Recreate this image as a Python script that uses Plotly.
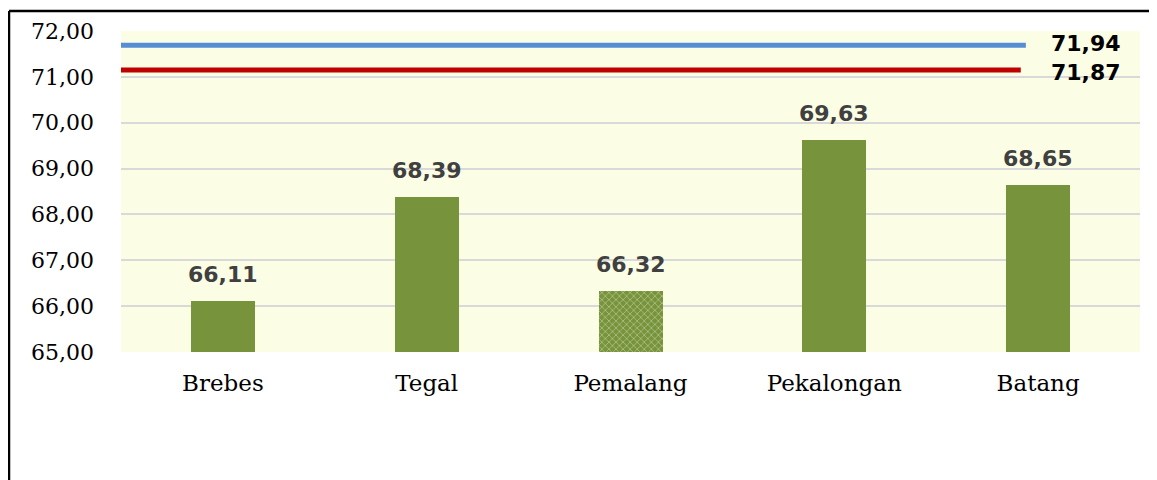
import plotly.graph_objects as go

categories = ["Brebes", "Tegal", "Pemalang", "Pekalongan", "Batang"]
values = [66.11, 68.39, 66.32, 69.63, 68.65]
value_labels = ["66,11", "68,39", "66,32", "69,63", "68,65"]
patterned = [False, False, True, False, False]

ref_line_levels = [71.69, 71.15]          # drawn positions as seen in the picture
ref_line_labels = ["71,94", "71,87"]
ref_line_colors = ["#558ED5", "#C00000"]
ref_line_x = [(-0.5, 3.94), (-0.525, 3.915)]

y_ticks = [65, 66, 67, 68, 69, 70, 71, 72]
y_tick_text = ["65,00", "66,00", "67,00", "68,00", "69,00", "70,00", "71,00", "72,00"]

GREEN = "#77933C"

W, H = 1149, 472
ML, MR, MT, MB = 113, 17, 23, 128
PW = W - ML - MR
PH = H - MT - MB

fig = go.Figure()
fig.add_trace(go.Bar(
    x=categories,
    y=[v - 65 for v in values],
    base=65,
    width=0.314,
    marker=dict(
        color=GREEN,
        line=dict(width=0),
        pattern=dict(
            shape=["x" if p else "" for p in patterned],
            fgcolor="#E2EBCB",
            bgcolor=GREEN,
            size=5,
            solidity=0.3,
        ),
    ),
    hoverinfo="skip",
))

annotations = []
for c, v, t in zip(categories, values, value_labels):
    annotations.append(dict(
        x=c, y=v, xref="x", yref="y", text=t, showarrow=False,
        yanchor="bottom", yshift=12,
        font=dict(family="DejaVu Sans", size=22, color="#404040", weight="bold"),
    ))

shapes = []
for lvl, col, (x0, x1) in zip(ref_line_levels, ref_line_colors, ref_line_x):
    shapes.append(dict(type="line", xref="x", yref="y", x0=x0, x1=x1, y0=lvl, y1=lvl,
                       line=dict(color=col, width=5), layer="above"))

for lvl, lab, ys in zip(ref_line_levels, ref_line_labels, [2, -3]):
    annotations.append(dict(
        x=4.235, y=lvl, xref="x", yref="y", text=lab, showarrow=False,
        xanchor="center", yanchor="middle", yshift=ys,
        font=dict(family="DejaVu Sans", size=22, color="#000000", weight="bold"),
    ))

# outer frame (top and left edges)
top_y = 1 + (MT - 3) / PH
left_x = -(ML - 1) / PW
shapes.append(dict(type="line", xref="paper", yref="paper", x0=left_x, x1=1 + (MR + 5) / PW, y0=top_y, y1=top_y,
                   line=dict(color="black", width=2.5)))
shapes.append(dict(type="line", xref="paper", yref="paper", x0=left_x, x1=left_x, y0=-(MB + 5) / PH, y1=top_y,
                   line=dict(color="black", width=2.5)))

fig.update_layout(
    width=W, height=H,
    margin=dict(l=ML, r=MR, t=MT, b=MB),
    paper_bgcolor="white",
    plot_bgcolor="#FBFDE4",
    showlegend=False,
    bargap=0.0,
    annotations=annotations,
    shapes=shapes,
    font=dict(family="DejaVu Serif", size=22, color="black"),
)
fig.update_yaxes(
    range=[65, 72], tickvals=y_ticks, ticktext=y_tick_text,
    showgrid=True, gridcolor="#D9D9D9", gridwidth=1.5,
    zeroline=False, showline=False, ticks="",
    ticklabelstandoff=26,
    tickfont=dict(family="DejaVu Serif", size=22, color="black"),
)
fig.update_xaxes(
    range=[-0.5, 4.5], showgrid=False, showline=False, ticks="",
    ticklabelstandoff=15,
    tickfont=dict(family="DejaVu Serif", size=23, color="black"),
)

fig.write_html("out.html")
